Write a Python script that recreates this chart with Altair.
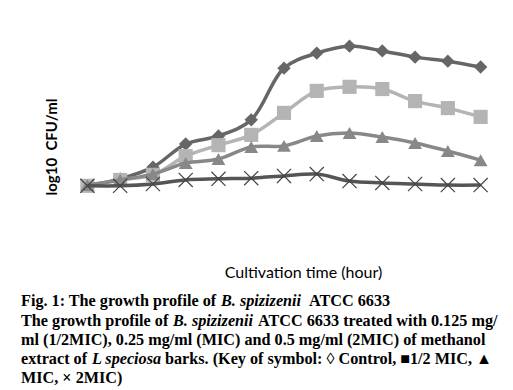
import altair as alt
import pandas as pd

# sampling points along the cultivation time axis (axis labels are hidden in the figure)
hours = list(range(13))
series_names = ["Control", "1/2 MIC", "MIC", "2MIC"]
control = [5.75, 5.94, 6.26, 6.89, 7.11, 7.55, 8.96, 9.37, 9.56, 9.43, 9.26, 9.15, 8.99]
half_mic = [5.75, 5.91, 6.05, 6.56, 6.86, 7.14, 7.74, 8.34, 8.45, 8.39, 8.06, 7.87, 7.63]
mic = [5.77, 5.91, 6.07, 6.37, 6.48, 6.81, 6.84, 7.11, 7.19, 7.08, 6.92, 6.70, 6.45]
two_mic = [5.75, 5.75, 5.80, 5.91, 5.94, 5.96, 6.02, 6.07, 5.88, 5.83, 5.80, 5.77, 5.77]

values = [control, half_mic, mic, two_mic]
line_colors = ["#666666", "#b4b4b4", "#888888", "#555555"]
marker_colors = ["#666666", "#b4b4b4", "#888888", "#444444"]
shapes = ["diamond", "square", "triangle-up", "M-1,-1L1,1M-1,1L1,-1"]
sizes = [180, 200, 190, 200]

rows = []
for name, vals in zip(series_names, values):
    for h, v in zip(hours, vals):
        rows.append({"series": name, "hour": h, "value": v})
df = pd.DataFrame(rows)

x_enc = alt.X(
    "hour:O",
    scale=alt.Scale(type="point", padding=0.5),
    axis=alt.Axis(labels=False, ticks=False, domain=False, grid=False,
                  title="Cultivation time (hour)", titleX=232, titleY=22,
                  titleBaseline="middle", titleAlign="center", titleFont="Lato",
                  titleFontSize=16, titleFontWeight="normal", titleColor="#000000"),
)
y_enc = alt.Y(
    "value:Q",
    scale=alt.Scale(domain=[4, 10], nice=False, zero=False),
    axis=alt.Axis(labels=False, ticks=False, domain=False, grid=False,
                  title="log10\u00a0 CFU/ml", titleX=-20, titleY=116.5, titleAngle=270,
                  titleBaseline="middle", titleAlign="center", titleFont="Lato",
                  titleFontSize=15, titleFontWeight="bold", titleColor="#000000"),
)

base = alt.Chart(df)
layers = []
for i, name in enumerate(series_names):
    sub = base.transform_filter(alt.datum.series == name)
    line = sub.mark_line(color=line_colors[i], strokeWidth=3.5, interpolate="catmull-rom").encode(x=x_enc, y=y_enc)
    if i == 3:
        pts = sub.mark_point(shape=shapes[i], size=sizes[i], filled=False, color=marker_colors[i],
                             strokeWidth=1.2, opacity=1).encode(x=x_enc, y=y_enc)
    else:
        pts = sub.mark_point(shape=shapes[i], size=sizes[i], filled=True, color=marker_colors[i],
                             opacity=1).encode(x=x_enc, y=y_enc)
    layers += [line, pts]

one = pd.DataFrame({"k": [0]})
FS = 16.2
def seg(text, x, y, italic=False):
    kw = dict(text=text, x=x, y=y, align="left", baseline="alphabetic",
              font="Liberation Serif", fontSize=FS, fontWeight="bold", color="#000000")
    if italic:
        kw["fontStyle"] = "italic"
    return alt.Chart(one).mark_text(**kw).encode(opacity=alt.value(1))

L1, L2, L3, L4, L5 = 276, 295.5, 315, 334, 353
caption = [
    seg("Fig. 1: The growth profile of", -50, L1),
    seg("B. spizizenii", 150, L1, True),
    seg("ATCC 6633", 238, L1),
    seg("The growth profile of", -50, L2),
    seg("B. spizizenii", 102, L2, True),
    seg("ATCC 6633 treated with 0.125 mg/", 187, L2),
    seg("ml (1/2MIC), 0.25 mg/ml (MIC) and 0.5 mg/ml (2MIC) of methanol", -50, L3),
    seg("extract of", -50, L4),
    seg("L speciosa", 21, L4, True),
    seg("barks. (Key of symbol: \u25ca Control, \u25a01/2 MIC, \u25b2", 94, L4),
    seg("MIC, \u00d7 2MIC)", -50, L5),
]

chart = alt.layer(*layers, *caption).properties(
    width=426, height=220,
    autosize=alt.AutoSizeParams(type="none"),
    padding={"left": 63, "top": 22, "right": 8, "bottom": 138},
).configure_view(stroke=None)

chart.save("out.html", embed_options={"renderer": "svg", "actions": False})
